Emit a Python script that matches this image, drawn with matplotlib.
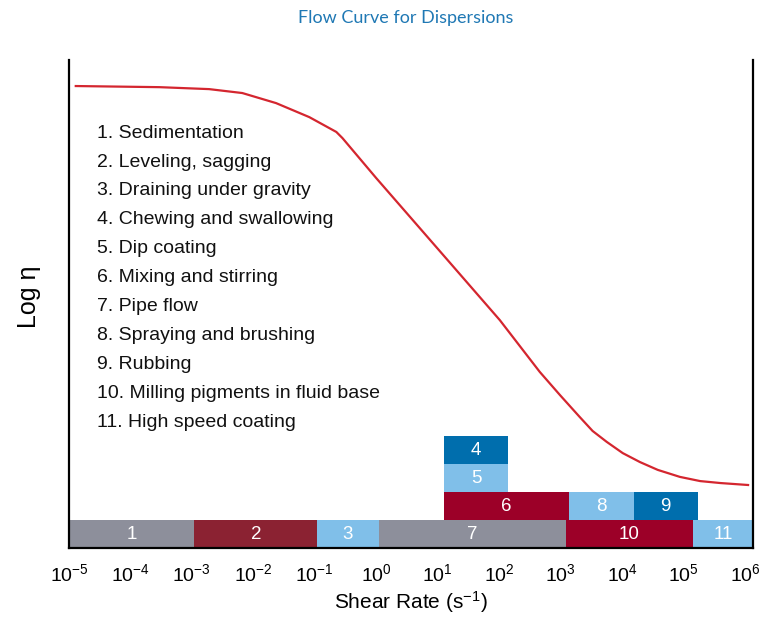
import numpy as np
import matplotlib
matplotlib.use("Agg")
import matplotlib.pyplot as plt

plt.rcParams['font.family'] = ['Liberation Sans', 'DejaVu Sans']

# flow curve: log10 shear rate vs log eta (arbitrary units)
curve_lx = [-4.89, -3.53, -2.72, -2.18, -1.63, -1.09, -0.65, -0.55, 0.00, 1.19,
            2.01, 2.66, 2.99, 3.31, 3.52, 3.75, 4.01, 4.29, 4.58, 4.94, 5.27, 5.60, 6.05]
curve_ly = [16.50, 16.46, 16.39, 16.25, 15.89, 15.39, 14.86, 14.64, 13.21, 10.21,
            8.14, 6.29, 5.46, 4.68, 4.18, 3.79, 3.39, 3.07, 2.79, 2.54, 2.39, 2.32, 2.25]

# process ranges (log10 shear rate), row in the stack
proc_num = ['1', '2', '3', '7', '10', '11', '6', '8', '9', '5', '4']
proc_lo = [-5.0, -2.96, -0.96, 0.04, 3.08, 5.15, 1.10, 3.13, 4.19, 1.10, 1.10]
proc_hi = [-2.96, -0.96, 0.04, 3.08, 5.15, 6.13, 3.13, 4.19, 5.23, 2.15, 2.15]
proc_row = [0, 0, 0, 0, 0, 0, 1, 1, 1, 2, 3]
proc_col = ['#8d8f9b', '#8b2232', '#80bfe9', '#8d8f9b', '#9c0028', '#80bfe9',
            '#9c0028', '#80bfe9', '#006ead', '#80bfe9', '#006ead']

legend_items = ['1. Sedimentation', '2. Leveling, sagging', '3. Draining under gravity',
                '4. Chewing and swallowing', '5. Dip coating', '6. Mixing and stirring',
                '7. Pipe flow', '8. Spraying and brushing', '9. Rubbing',
                '10. Milling pigments in fluid base', '11. High speed coating']

tick_exp = list(range(-5, 7))

fig = plt.figure(figsize=(7.61, 6.17), dpi=100)
ax = fig.add_axes([69/761, 69/617, 684/761, 488/617])

lo = 10**np.array(proc_lo)
hi = 10**np.array(proc_hi)
ax.bar(lo, 1, width=hi-lo, bottom=proc_row, align='edge', color=proc_col, linewidth=0)
for n, a, b, r in zip(proc_num, proc_lo, proc_hi, proc_row):
    ax.text(10**((a+b)/2), r+0.5, n, color='white', fontsize=13.5, ha='center', va='center')

ax.plot(10**np.array(curve_lx), curve_ly, color='#d4262f', lw=1.6,
        solid_joinstyle='round')

ax.set_xscale('log')
ax.set_xlim(1e-5, 10**6.13)
ax.set_ylim(0, 17.43)
ax.set_xticks([10.0**e for e in tick_exp])
ax.set_xticklabels([r'$\mathregular{10^{%d}}$' % e for e in tick_exp], fontsize=14)
ax.minorticks_off()
ax.tick_params(axis='x', length=0, pad=11)
ax.set_yticks([])

for i, t in enumerate(legend_items):
    ax.text(0.041, 0.850 - i*0.0592, t, transform=ax.transAxes, fontsize=14,
            ha='left', va='center', color='#111111')

ax.spines['top'].set_visible(False)
for s in ['left', 'right', 'bottom']:
    ax.spines[s].set_linewidth(1.6)

ax.set_xlabel(r'Shear Rate (s$\mathregular{^{-1}}$)', fontsize=15, labelpad=3)
ax.set_ylabel('Log η', fontsize=18)
ax.yaxis.set_label_coords((41 - 69)/684, (548 - 297)/488)

fig.text(406/761, 1-18/617, 'Flow Curve for Dispersions', color='#1f78b4',
         fontsize=13, ha='center', va='center', family=['Lato', 'DejaVu Sans'])

fig.savefig('out.png', dpi=100)
